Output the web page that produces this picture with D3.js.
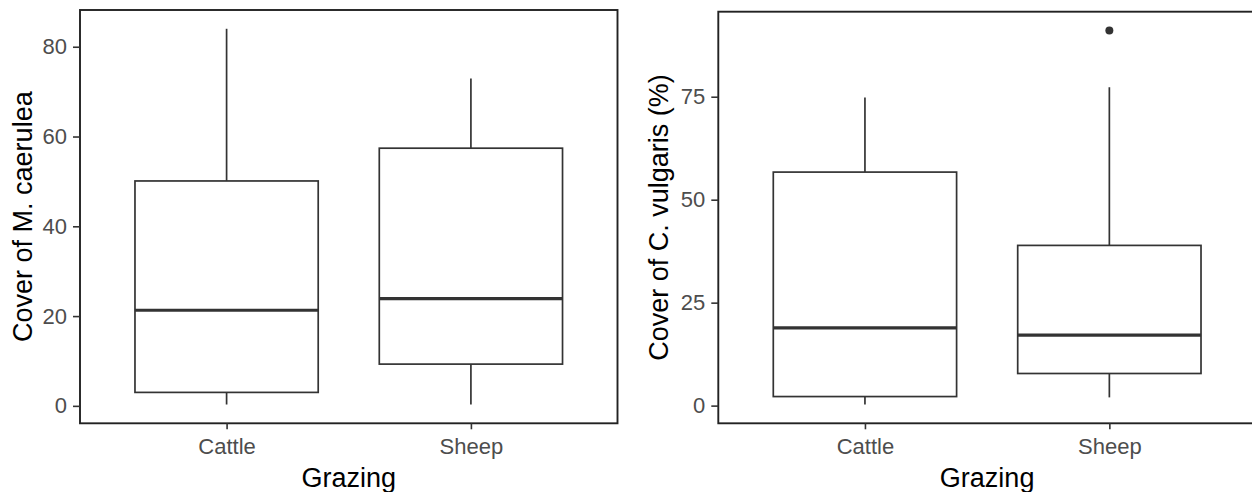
<!DOCTYPE html>
<style>
    body { margin: 0; background: #fff; font-family: 'Liberation Sans', Arial, sans-serif; }
    .axis .domain { display: none; }
</style>
<body>
<svg width="1252" height="492" id="chart"></svg>
<script src="https://d3js.org/d3.v7.min.js"></script>
<script>

    // grazing groups
    var groups = ["Cattle", "Sheep"];

    // box stats per group: [lower whisker, q1, median, q3, upper whisker]
    var molinia = [
        [0.3, 3.0, 21.3, 50.1, 84.0],
        [0.3, 9.3, 23.9, 57.4, 72.9]
    ];
    var moliniaOutliers = [[], []];

    var calluna = [
        [0.25, 2.2, 18.9, 56.7, 74.8],
        [2.0, 7.8, 17.1, 38.9, 77.3]
    ];
    var callunaOutliers = [[], [91.1]];

    var moliniaTicks = [0, 20, 40, 60, 80];
    var callunaTicks = [0, 25, 50, 75];

    var svg = d3.select("svg");

    function panel(left, top, right, bottom, stats, outliers, ticks, ylab) {
        var w = right - left, h = bottom - top;
        var g = svg.append("g").attr("transform", "translate(" + left + "," + top + ")");

        var lo = d3.min(stats, function(d) { return d[0]; }),
            hi = d3.max(stats.map(function(d, i) { return d3.max([d[4]].concat(outliers[i])); }));
        var pad = (hi - lo) * 0.05;   // ggplot style expansion

        var y = d3.scaleLinear().domain([lo - pad, hi + pad]).range([h, 0]);
        var x = d3.scalePoint().domain(groups).range([0, w]).padding(0.6);
        var bw = (x(groups[1]) - x(groups[0])) * 0.75;   // boxes are 0.75 of group spacing

        var box = g.selectAll(".box").data(stats).enter().append("g")
            .attr("transform", function(d, i) { return "translate(" + x(groups[i]) + ",0)"; })
            .attr("stroke", "#333333")
            .attr("fill", "#fff");

        box.append("line").attr("y1", function(d) { return y(d[3]); }).attr("y2", function(d) { return y(d[4]); })
            .attr("stroke-width", 1.7);
        box.append("line").attr("y1", function(d) { return y(d[1]); }).attr("y2", function(d) { return y(d[0]); })
            .attr("stroke-width", 1.7);
        box.append("rect")
            .attr("x", -bw / 2).attr("width", bw)
            .attr("y", function(d) { return y(d[3]); })
            .attr("height", function(d) { return y(d[1]) - y(d[3]); })
            .attr("stroke-width", 1.7);
        box.append("line").attr("x1", -bw / 2).attr("x2", bw / 2)
            .attr("y1", function(d) { return y(d[2]); }).attr("y2", function(d) { return y(d[2]); })
            .attr("stroke-width", 3.2);

        box.each(function(d, i) {
            d3.select(this).selectAll("circle").data(outliers[i]).enter().append("circle")
                .attr("cx", 0).attr("cy", function(v) { return y(v); }).attr("r", 4)
                .attr("fill", "#333333").attr("stroke", "none");
        });

        g.append("rect").attr("width", w).attr("height", h)
            .attr("fill", "none").attr("stroke", "#222").attr("stroke-width", 1.9);

        var ya = g.append("g").attr("class", "axis")
            .call(d3.axisLeft(y).tickValues(ticks).tickSize(7).tickPadding(6));
        ya.selectAll("line").attr("stroke", "#333").attr("stroke-width", 1.6);
        ya.selectAll("text").attr("fill", "#4D4D4D").attr("font-size", "22px")
            .attr("font-family", "'Liberation Sans', Arial, sans-serif");

        var xa = g.append("g").attr("class", "axis").attr("transform", "translate(0," + h + ")")
            .call(d3.axisBottom(x).tickSize(6).tickPadding(9));
        xa.selectAll("line").attr("stroke", "#333").attr("stroke-width", 1.6);
        xa.selectAll("text").attr("fill", "#4D4D4D").attr("font-size", "22px")
            .attr("font-family", "'Liberation Sans', Arial, sans-serif");

        g.append("text")
            .attr("x", w / 2).attr("y", 487 - top)
            .attr("text-anchor", "middle").attr("font-size", "27px").attr("fill", "#000")
            .text("Grazing");

        g.append("text")
            .attr("transform", "translate(" + ylab.x + "," + (h / 2) + ") rotate(-90)")
            .attr("text-anchor", "middle").attr("font-size", "27px").attr("fill", "#000")
            .text(ylab.text);
    }

    panel(80, 10, 617.5, 423.3, molinia, moliniaOutliers, moliniaTicks, {x: 32 - 80, text: "Cover of M. caerulea"});
    panel(718.3, 11.7, 1256, 423.3, calluna, callunaOutliers, callunaTicks, {x: 668 - 718.3, text: "Cover of C. vulgaris (%)"});

</script>
</body>
